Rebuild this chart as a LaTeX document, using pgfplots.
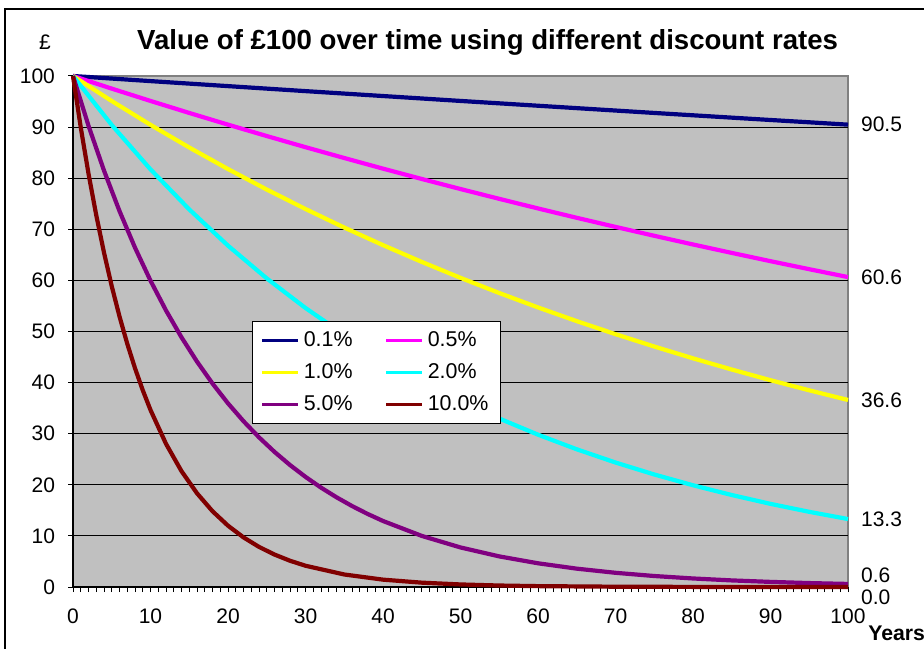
\documentclass[border=0pt]{standalone}
\usepackage{fontspec}
\setmainfont{Liberation Sans}
\usepackage{pgfplots}
\pgfplotsset{compat=1.18}
\definecolor{excelgray}{RGB}{192,192,192}
\definecolor{framegray}{RGB}{128,128,128}
\definecolor{cNavy}{RGB}{0,0,128}
\definecolor{cMagenta}{RGB}{255,0,255}
\definecolor{cYellow}{RGB}{255,255,0}
\definecolor{cCyan}{RGB}{0,255,255}
\definecolor{cPurple}{RGB}{128,0,128}
\definecolor{cDarkRed}{RGB}{128,0,0}
\begin{document}
\begin{tikzpicture}
\useasboundingbox (-36.5pt,-30.5pt) rectangle (425.5pt,293.5pt);
\draw[black, line width=0.6pt] (-34pt,-40pt) -- (-34pt,289pt) -- (440pt,289pt);
\begin{axis}[
  scale only axis,
  width=387.5pt, height=255.5pt,
  xmin=0, xmax=100, ymin=0, ymax=100,
  axis lines=left,
  axis line style={-, black, line width=0.6pt},
  axis background/.style={fill=excelgray, draw=framegray, line width=0.6pt},
  xtick={0,10,...,100},
  minor x tick num=9,
  ytick={0,10,...,90},
  extra y ticks={100},
  extra y tick style={grid=none},
  ymajorgrids,
  grid style={black, line width=0.5pt},
  tick align=outside,
  major tick length=2.5pt,
  minor tick length=2.5pt,
  tick style={black, line width=0.5pt},
  /pgf/number format/assume math mode=true,
  ticklabel style={font=\fontsize{10.5}{12}\selectfont},
  xticklabel style={yshift=-5pt},
  yticklabel style={xshift=-3pt},
  clip=false,
  legend columns=2,
  legend style={at={(0.231,0.5205)}, anchor=north west, draw=black, fill=white,
    line width=0.6pt, font=\fontsize{10.7}{12}\selectfont,
    /tikz/every even column/.append style={column sep=14pt},
    row sep=3pt, inner xsep=4pt, inner ysep=3pt},
  legend cell align=left,
  legend image code/.code={\draw[#1, line width=1.6pt] (0pt,0pt) -- (18pt,0pt);},
  every axis plot/.append style={line width=2.1pt, line join=round},
]
\addplot[cNavy] coordinates {(0,100)(5,99.50)(10,99.00)(15,98.51)(20,98.02)(25,97.53)(30,97.04)(35,96.56)(40,96.08)(45,95.60)(50,95.12)(55,94.65)(60,94.18)(65,93.71)(70,93.24)(75,92.77)(80,92.31)(85,91.85)(90,91.39)(95,90.94)(100,90.48)};
\addlegendentry{0.1\%}
\addplot[cMagenta] coordinates {(0,100)(5,97.53)(10,95.12)(15,92.77)(20,90.48)(25,88.25)(30,86.07)(35,83.95)(40,81.87)(45,79.85)(50,77.88)(55,75.96)(60,74.08)(65,72.25)(70,70.47)(75,68.73)(80,67.03)(85,65.38)(90,63.76)(95,62.19)(100,60.65)};
\addlegendentry{0.5\%}
\addplot[cYellow] coordinates {(0,100)(5,95.10)(10,90.44)(15,86.01)(20,81.79)(25,77.78)(30,73.97)(35,70.34)(40,66.90)(45,63.62)(50,60.50)(55,57.53)(60,54.71)(65,52.03)(70,49.48)(75,47.06)(80,44.75)(85,42.56)(90,40.47)(95,38.49)(100,36.60)};
\addlegendentry{1.0\%}
\addplot[cCyan] coordinates {(0,100)(5,90.41)(10,81.73)(15,73.89)(20,66.80)(25,60.39)(30,54.60)(35,49.36)(40,44.62)(45,40.34)(50,36.47)(55,32.97)(60,29.81)(65,26.95)(70,24.36)(75,22.02)(80,19.91)(85,18.00)(90,16.27)(95,14.71)(100,13.30)};
\addlegendentry{2.0\%}
\addplot[cPurple] coordinates {(0,100)(2,90.27)(4,81.49)(6,73.57)(8,66.41)(10,59.95)(12,54.12)(14,48.86)(16,44.11)(18,39.82)(20,35.94)(22,32.45)(24,29.29)(26,26.44)(28,23.87)(30,21.55)(32,19.45)(34,17.56)(36,15.85)(38,14.31)(40,12.92)(45,10.00)(50,7.74)(55,5.99)(60,4.64)(65,3.59)(70,2.78)(75,2.15)(80,1.67)(85,1.29)(90,1.00)(95,0.77)(100,0.60)};
\addlegendentry{5.0\%}
\addplot[cDarkRed] coordinates {(0,100)(1,89.94)(2,80.89)(3,72.76)(4,65.44)(5,58.86)(6,52.94)(7,47.61)(8,42.82)(9,38.51)(10,34.64)(12,28.02)(14,22.67)(16,18.34)(18,14.83)(20,12.00)(22,9.71)(24,7.85)(26,6.35)(28,5.14)(30,4.16)(35,2.45)(40,1.44)(45,0.85)(50,0.50)(55,0.29)(60,0.17)(70,0.06)(80,0.02)(90,0.01)(100,0.00)};
\addlegendentry{10.0\%}
\node[anchor=west, font=\fontsize{10.5}{12}\selectfont] at (axis cs:100,90.5) {\hspace{3pt}90.5};
\node[anchor=west, font=\fontsize{10.5}{12}\selectfont] at (axis cs:100,60.6) {\hspace{3pt}60.6};
\node[anchor=west, font=\fontsize{10.5}{12}\selectfont] at (axis cs:100,36.6) {\hspace{3pt}36.6};
\node[anchor=west, font=\fontsize{10.5}{12}\selectfont] at (axis cs:100,13.3) {\hspace{3pt}13.3};
\node[anchor=west, font=\fontsize{10.5}{12}\selectfont] at (axis cs:100,2.3) {\hspace{3pt}0.6};
\node[anchor=west, font=\fontsize{10.5}{12}\selectfont] at (axis cs:100,-2.0) {\hspace{3pt}0.0};
\end{axis}
\node[font=\fontsize{10.5}{12}\selectfont] at (-14pt,272.5pt) {£};
\node[font=\bfseries\fontsize{13.8}{16}\selectfont] at (207.3pt,272.5pt) {Value of £100 over time using different discount rates};
\node[anchor=west, inner sep=0pt, font=\bfseries\fontsize{10.6}{12}\selectfont] at (397.5pt,-23pt) {Years};
\end{tikzpicture}
\end{document}
